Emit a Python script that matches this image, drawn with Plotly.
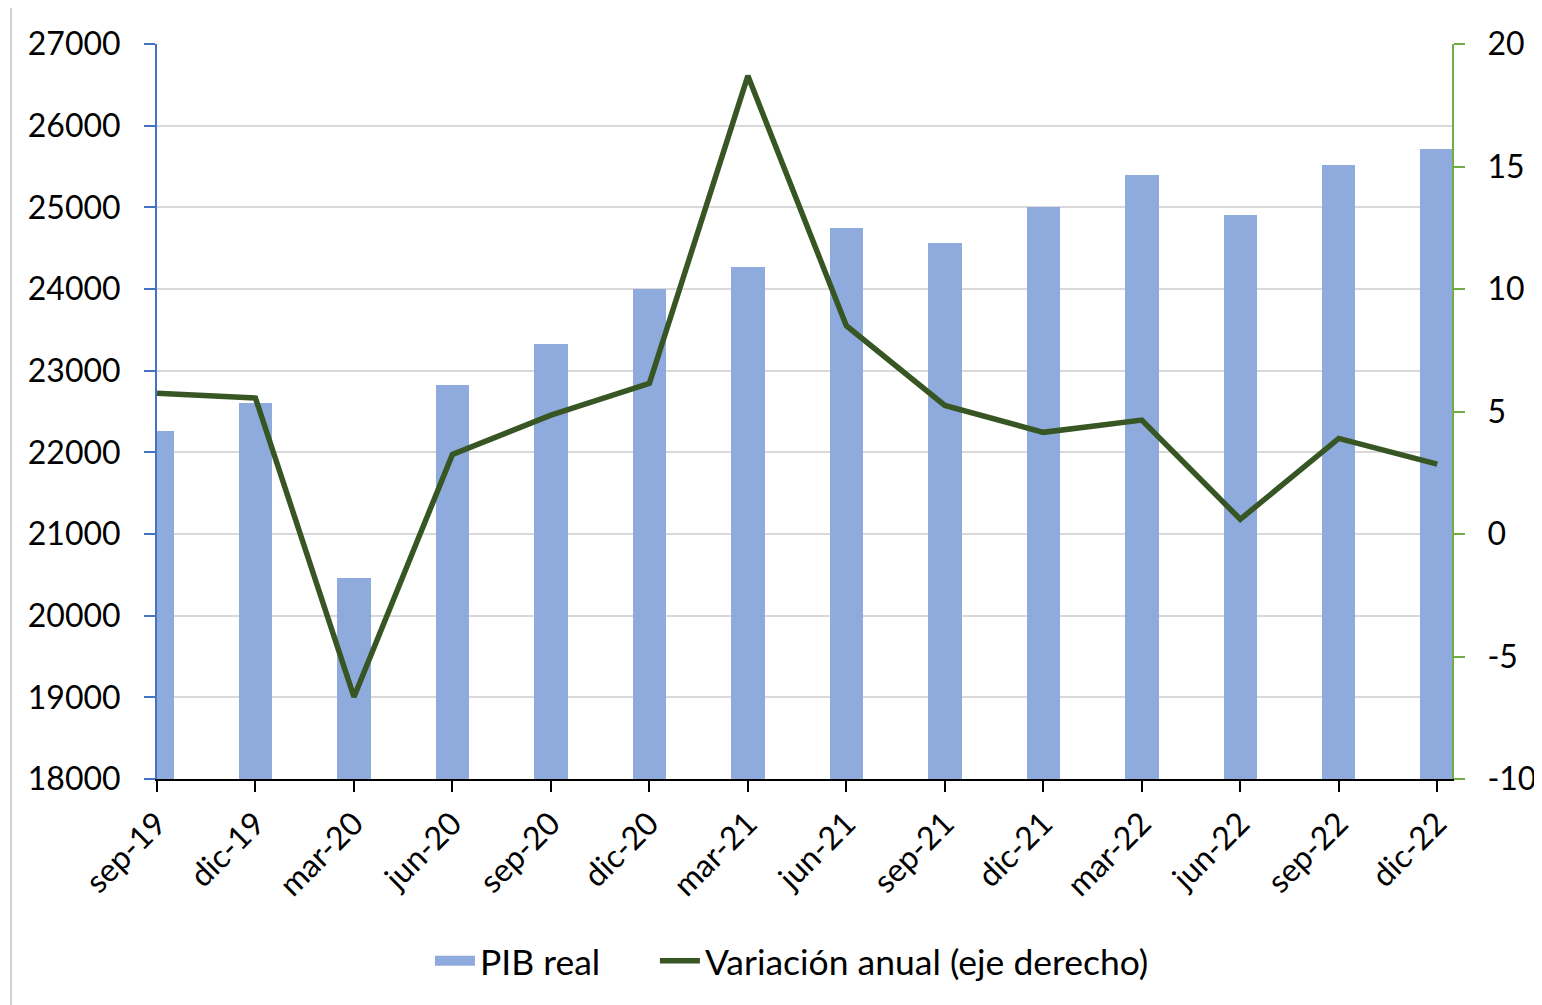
import plotly.graph_objects as go

categories = ["sep-19", "dic-19", "mar-20", "jun-20", "sep-20", "dic-20", "mar-21",
              "jun-21", "sep-21", "dic-21", "mar-22", "jun-22", "sep-22", "dic-22"]
pib_real = [22265, 22605, 20460, 22825, 23330, 24000, 24270,
            24750, 24565, 25005, 25400, 24910, 25520, 25715]
variacion_anual = [5.75, 5.55, -6.65, 3.25, 4.85, 6.15, 18.7,
                   8.5, 5.25, 4.15, 4.65, 0.6, 3.9, 2.85]
left_ticks = [18000, 19000, 20000, 21000, 22000, 23000, 24000, 25000, 26000, 27000]
left_labels = [str(v) for v in left_ticks]
right_ticks = [-10, -5, 0, 5, 10, 15, 20]
right_labels = [str(v) for v in right_ticks]

xpos = list(range(len(categories)))
FONT = "Lato"
BAR_COLOR = "#8FAADC"

fig = go.Figure()
fig.add_trace(go.Bar(x=xpos, y=pib_real, name="PIB real", width=0.34,
                     marker=dict(color=BAR_COLOR, line=dict(width=0)),
                     showlegend=False))
# legend proxy for the bars (wide rectangular swatch)
fig.add_trace(go.Scatter(x=[None], y=[None], name="PIB real", mode="lines",
                         line=dict(color=BAR_COLOR, width=20), showlegend=True,
                         legend="legend"))
fig.add_trace(go.Scatter(x=xpos, y=variacion_anual, name="Variación anual (eje derecho)",
                         mode="lines", line=dict(color="#375623", width=5.5),
                         yaxis="y2", legend="legend2"))

leg_common = dict(orientation="h", y=-0.248, yanchor="middle", xanchor="left",
                  font=dict(size=35.5), itemwidth=40, bgcolor="rgba(0,0,0,0)")

# page body has an 8px margin: figure is 1534x997 placed at (8, 8)
fig.update_layout(
    width=1534, height=997,
    margin=dict(l=149, r=90, t=36, b=226, autoexpand=False),
    paper_bgcolor="white", plot_bgcolor="white",
    font=dict(family=FONT, size=32, color="black"),
    bargap=0,
    xaxis=dict(range=[0, 13.15], tickmode="array", tickvals=xpos, ticktext=categories,
               tickangle=-45, showgrid=False, showline=True, linecolor="black", linewidth=2,
               ticks="outside", ticklen=11, tickwidth=2, tickcolor="black",
               tickfont=dict(size=32), zeroline=False, automargin=False),
    yaxis=dict(range=[18000, 27000], tickmode="array", tickvals=left_ticks,
               ticktext=left_labels,
               showgrid=True, gridcolor="#D9D9D9", gridwidth=2,
               showline=True, linecolor="#4472C4", linewidth=2,
               ticks="outside", ticklen=11, tickwidth=2, tickcolor="#4472C4",
               tickfont=dict(size=32), zeroline=False, ticklabelstandoff=17,
               automargin=False),
    yaxis2=dict(range=[-10, 20], tickmode="array", tickvals=right_ticks,
                ticktext=right_labels,
                overlaying="y", side="right", showgrid=False,
                showline=True, linecolor="#70AD47", linewidth=2,
                ticks="outside", ticklen=11, tickwidth=2, tickcolor="#70AD47",
                tickfont=dict(size=32), zeroline=False, ticklabelstandoff=16,
                automargin=False),
    legend=dict(x=0.2108, **leg_common),
    legend2=dict(x=0.3845, **leg_common),
    showlegend=True,
)

fig.add_shape(type="line", xref="paper", yref="paper",
              x0=-0.1127, x1=-0.1127, y0=-0.3075, y1=1.049,
              line=dict(color="#D0D0D0", width=2))

fig.write_html("out.html")
